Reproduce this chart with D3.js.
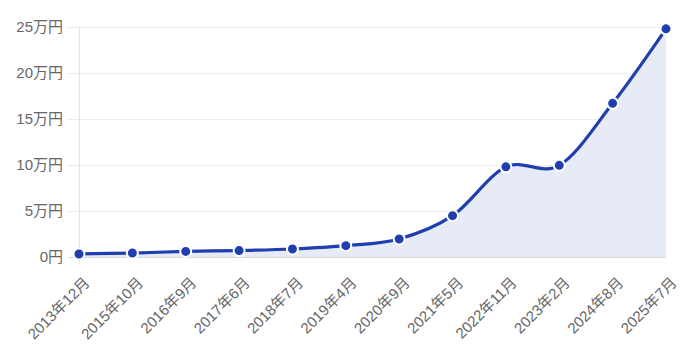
<!DOCTYPE html>
<html>
<head>
<meta charset="utf-8">
<script src="https://cdn.jsdelivr.net/npm/d3@7"></script>
<style>
  body { margin: 0; background: #fff; }
  svg text { font-family: "Liberation Sans", Arial, "Noto Sans CJK JP", sans-serif; fill: #666; font-size: 15px; }
</style>
</head>
<body>
<svg id="chart"></svg>
<script>
// data (万円)
const periods = ["2013年12月","2015年10月","2016年9月","2017年6月","2018年7月","2019年4月",
                 "2020年9月","2021年5月","2022年11月","2023年2月","2024年8月","2025年7月"];
const values = [0.33, 0.43, 0.61, 0.70, 0.87, 1.23, 1.96, 4.49, 9.8, 9.96, 16.7, 24.8];
const yTicks = [0, 5, 10, 15, 20, 25];

const width = 686, height = 355;
const margin = {left: 79, right: 20, top: 27, bottom: 98};

const svg = d3.select("#chart").attr("width", width).attr("height", height);

const x = d3.scalePoint().domain(periods).range([margin.left, width - margin.right]);
const y = d3.scaleLinear().domain([0, 25]).range([height - margin.bottom, margin.top]);

// grid
svg.append("g")
  .selectAll("line")
  .data(yTicks)
  .join("line")
  .attr("x1", margin.left - 11)
  .attr("x2", width - margin.right)
  .attr("y1", d => y(d) + 0.5)
  .attr("y2", d => y(d) + 0.5)
  .style("stroke", d => d == 0 ? "#d9d9d9" : "#ececec")
  .style("stroke-width", 1);

svg.append("line")
  .attr("x1", margin.left + 0.5).attr("x2", margin.left + 0.5)
  .attr("y1", y(25)).attr("y2", y(0) + 8)
  .style("stroke", "#e6e6e6");

// y labels
svg.append("g")
  .selectAll("text")
  .data(yTicks)
  .join("text")
  .attr("x", margin.left - 16)
  .attr("y", d => y(d))
  .attr("dy", "0.35em")
  .attr("text-anchor", "end")
  .text(d => d == 0 ? "0円" : d + "万円");

// x labels
svg.append("g")
  .selectAll("text")
  .data(periods)
  .join("text")
  .attr("text-anchor", "end")
  .attr("transform", d => `translate(${x(d) + 8},${y(0) + 23}) rotate(-45)`)
  .attr("dy", "0.35em")
  .text(d => d);

const curve = d3.curveCardinal.tension(0);

const area = d3.area()
  .x((d, i) => x(periods[i]))
  .y0(y(0))
  .y1(d => y(d))
  .curve(curve);

const line = d3.line()
  .x((d, i) => x(periods[i]))
  .y(d => y(d))
  .curve(curve);

svg.append("path")
  .datum(values)
  .attr("d", area)
  .style("fill", "#e7ebf6");

svg.append("path")
  .datum(values)
  .attr("d", line)
  .style("fill", "none")
  .style("stroke", "#1f3fb0")
  .style("stroke-width", 3.2);

svg.append("g")
  .selectAll("circle")
  .data(values)
  .join("circle")
  .attr("cx", (d, i) => x(periods[i]))
  .attr("cy", d => y(d))
  .attr("r", 5.5)
  .style("fill", "#1f3fb0")
  .style("stroke", "#fff")
  .style("stroke-width", 2);
</script>
</body>
</html>
